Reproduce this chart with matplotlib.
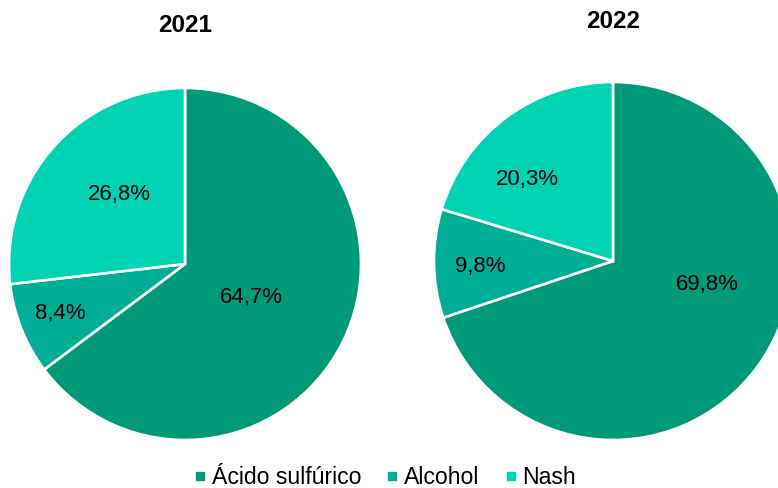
import matplotlib.pyplot as plt
import numpy as np
from matplotlib.lines import Line2D

plt.rcParams['font.family'] = ['Liberation Sans', 'DejaVu Sans']

CATEGORIES = ['Ácido sulfúrico', 'Alcohol', 'Nash']
YEARS = ['2021', '2022']
SHARE_2021 = [64.7, 8.4, 26.8]
SHARE_2022 = [69.8, 9.8, 20.3]
COLORS = ['#009a78', '#00ae98', '#00d3b4']

W, H = 778, 488
fig = plt.figure(figsize=(W / 100, H / 100), dpi=100)

# pie centre / radius in pixels, label radial distance and angular tweak per slice
layouts = [
    dict(cx=185, cy=264, r=176, dist=[0.42, 0.76, 0.54], shift=[0, 0, -5], title_y=25),
    dict(cx=613, cy=261, r=179, dist=[0.54, 0.74, 0.66], shift=[22, 1.5, 10], title_y=22),
]

for year, shares, lay in zip(YEARS, [SHARE_2021, SHARE_2022], layouts):
    pad = 1.03
    half = lay['r'] * pad
    ax = fig.add_axes([(lay['cx'] - half) / W, (H - lay['cy'] - half) / H,
                       2 * half / W, 2 * half / H])
    wedges, _ = ax.pie(shares, colors=COLORS, startangle=90, counterclock=False,
                       radius=1, wedgeprops=dict(edgecolor='white', linewidth=1.9))
    ax.set_xlim(-pad, pad)
    ax.set_ylim(-pad, pad)
    ax.set_aspect('equal')
    ax.axis('off')

    for w, val, d, s in zip(wedges, shares, lay['dist'], lay['shift']):
        ang = np.deg2rad((w.theta1 + w.theta2) / 2 + s)
        ax.text(d * np.cos(ang), d * np.sin(ang), f'{val:.1f}%'.replace('.', ','),
                ha='center', va='center', fontsize=16, color='black')

    fig.text(lay['cx'] / W, 1 - lay['title_y'] / H, year, ha='center', va='center',
             fontsize=17.5, fontweight='bold')

handles = [Line2D([], [], marker='s', linestyle='none', markersize=6,
                  markerfacecolor=c, markeredgecolor=c) for c in COLORS]
fig.legend(handles, CATEGORIES, loc='center', bbox_to_anchor=(385 / W, 1 - 478 / H),
           ncol=3, frameon=False, fontsize=16.6, handlelength=0.5, handletextpad=0.27,
           columnspacing=1.1, borderpad=0)

fig.savefig('out.png', dpi=100)
